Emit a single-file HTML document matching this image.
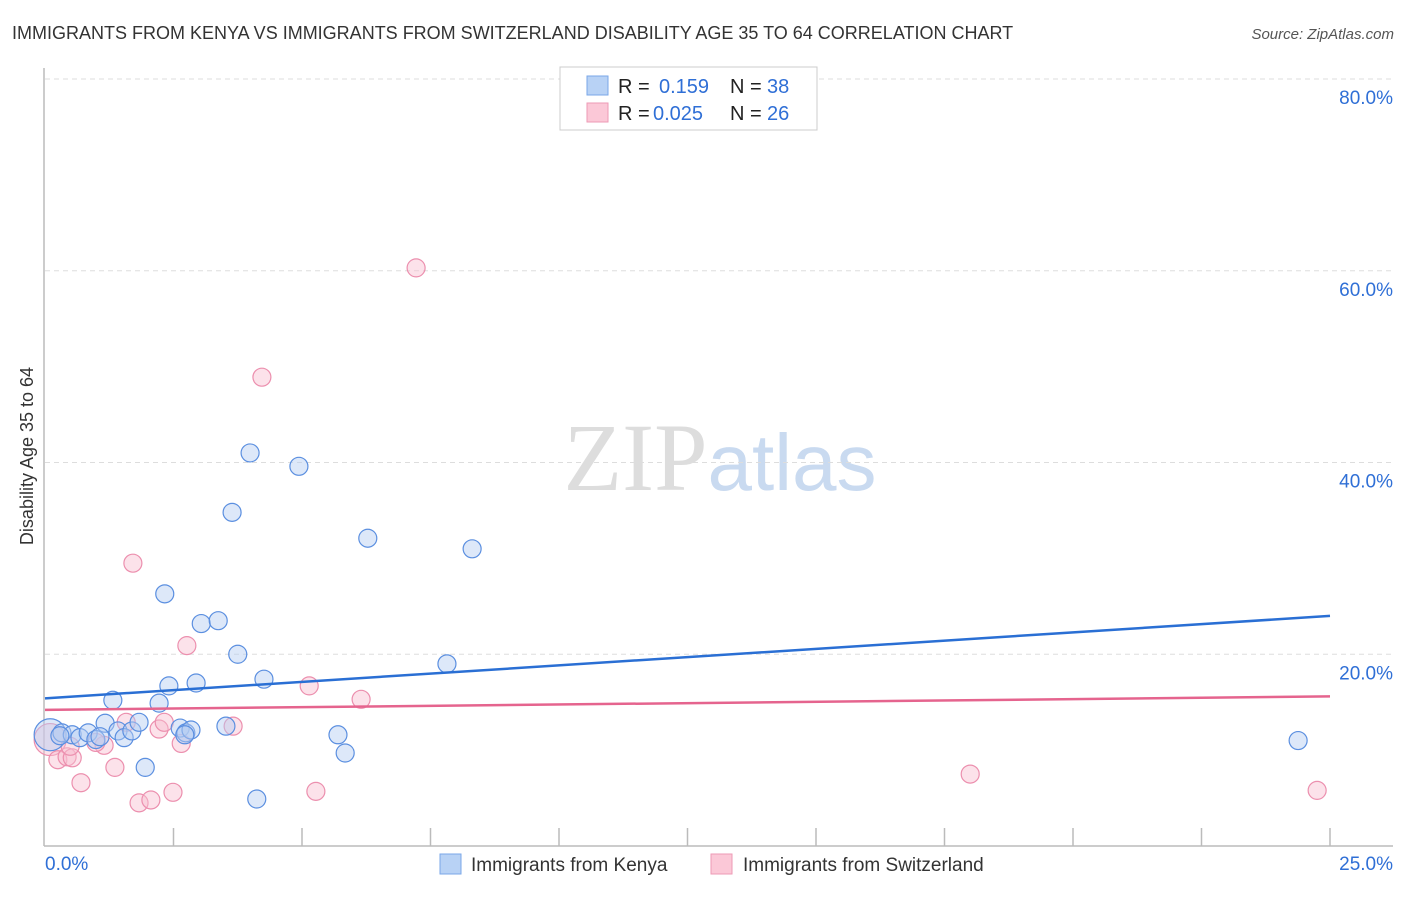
<!DOCTYPE html>
<html><head><meta charset="utf-8">
<style>
body{margin:0;background:#fff;font-family:"Liberation Sans",sans-serif;}
svg text{font-family:"Liberation Sans",sans-serif;}
</style></head>
<body>
<svg id="chart" width="1406" height="892" xmlns="http://www.w3.org/2000/svg">
<text x="12" y="39" font-size="18" fill="#333">IMMIGRANTS FROM KENYA VS IMMIGRANTS FROM SWITZERLAND DISABILITY AGE 35 TO 64 CORRELATION CHART</text>
<text x="1394" y="39" font-size="15" fill="#555" text-anchor="end" font-style="italic">Source: ZipAtlas.com</text>
<text x="720" y="490" font-size="96" text-anchor="middle"><tspan fill="#ddd" font-family="Liberation Serif">ZIP</tspan><tspan fill="#c9daf0" font-size="80">atlas</tspan></text>
<g id="grid"></g>
<line x1="44" y1="68" x2="44" y2="846" stroke="#bbb" stroke-width="1.5"/>
<line x1="44" y1="846" x2="1393" y2="846" stroke="#bbb" stroke-width="1.5"/>
<text transform="translate(33,456) rotate(-90)" font-size="18" fill="#333" text-anchor="middle">Disability Age 35 to 64</text>
<g id="trend"></g>
<g id="points"></g>
<g>
<rect x="560" y="67" width="257" height="63" fill="#fff" stroke="#ccc"/>
<rect x="587" y="76" width="21" height="19" fill="#b8d2f5" stroke="#7aa7e8"/>
<rect x="587" y="103" width="21" height="19" fill="#fbc8d7" stroke="#ee9ab5"/>
<text x="618" y="93" font-size="20" fill="#222">R = </text><text x="659" y="93" font-size="20" fill="#2f6fd6">0.159</text>
<text x="730" y="93" font-size="20" fill="#222">N = </text><text x="767" y="93" font-size="20" fill="#2f6fd6">38</text>
<text x="618" y="120" font-size="20" fill="#222">R = </text><text x="653" y="120" font-size="20" fill="#2f6fd6">0.025</text>
<text x="730" y="120" font-size="20" fill="#222">N = </text><text x="767" y="120" font-size="20" fill="#2f6fd6">26</text>
</g>
<g>
<rect x="440" y="854" width="21" height="20" fill="#b8d2f5" stroke="#7aa7e8"/>
<text x="471" y="871" font-size="19" fill="#333">Immigrants from Kenya</text>
<rect x="711" y="854" width="21" height="20" fill="#fbc8d7" stroke="#ee9ab5"/>
<text x="743" y="871" font-size="19" fill="#333">Immigrants from Switzerland</text>
</g>
</svg>
<script>
const yTicks=[20,40,60,80];
const xTickLabels=["0.0%","25.0%"];
const kenyaX=[0.10,0.33,0.53,0.68,0.84,0.99,1.17,1.32,1.42,1.54,1.69,1.83,1.95,2.22,2.33,2.41,2.63,2.74,2.84,2.94,3.04,3.37,3.52,3.64,3.75,3.99,4.12,4.26,4.94,5.70,5.84,6.28,7.82,8.31,24.38,0.29,1.07,2.72];
const kenyaY=[11.6,11.8,11.6,11.3,11.8,11.1,12.8,15.2,12.0,11.3,12.0,12.9,8.2,14.9,26.3,16.7,12.3,11.8,12.1,17.0,23.2,23.5,12.5,34.8,20.0,41.0,4.9,17.4,39.6,11.6,9.7,32.1,19.0,31.0,11.0,11.5,11.4,11.6];
const swissX=[0.10,0.25,0.43,0.53,0.70,1.15,1.36,1.58,1.71,1.83,2.06,2.22,2.32,2.49,2.65,2.76,3.66,4.22,5.14,5.27,6.15,7.22,18.0,24.75,0.99,0.49];
const swissY=[11.1,9.0,9.3,9.2,6.6,10.5,8.2,12.9,29.5,4.5,4.8,12.2,12.9,5.6,10.7,20.9,12.5,48.9,16.7,5.7,15.3,60.3,7.5,5.8,10.8,10.4];
const kenyaTrend=[15.4,24.0];
const swissTrend=[14.2,15.6];
const NS="http://www.w3.org/2000/svg";
const X=v=>45+v/25*1285, Y=v=>846-v/80*767;
function mk(t,a,p){const e=document.createElementNS(NS,t);for(const k in a)e.setAttribute(k,a[k]);p.appendChild(e);return e;}
const grid=document.getElementById('grid');
yTicks.forEach(t=>{
 const l=mk('line',{x1:45,x2:1393,y1:Y(t),y2:Y(t),stroke:'#ddd','stroke-dasharray':'5,4'},grid);
 
 
 const tx=mk('text',{x:1393,y:Y(t)+25,'font-size':19,fill:'#2f6fd6','text-anchor':'end'},grid);
 tx.textContent=t.toFixed(1)+'%';
 
 
});
for(let i=1;i<=10;i++){
 const l=mk('line',{x1:X(i*2.5),x2:X(i*2.5),y1:828,y2:846,stroke:'#bbb','stroke-width':1.5},grid);
 
 
}
[[0,45,'start'],[1,1393,'end']].forEach(([i,x,a])=>{
 const tx=mk('text',{x:x,y:870,'font-size':19,fill:'#2f6fd6','text-anchor':a},grid);
 tx.textContent=xTickLabels[i];
 
 
});
const pts=document.getElementById('points');
function series(xs,ys,fill,stroke,name){
 xs.forEach((x,i)=>{
  const r=(i===0)?16:9;
  const c=mk('circle',{cx:X(x),cy:Y(ys[i]),r:r,fill:fill,'fill-opacity':0.45,stroke:stroke,'stroke-width':1.2},pts);
  
  
 });
}
series(swissX,swissY,'#f9bfd0','#ec8fae','switzerland-point');
series(kenyaX,kenyaY,'#b3cdf2','#5b8fe0','kenya-point');
const tr=document.getElementById('trend');
const t1=mk('line',{x1:X(0),x2:X(25),y1:Y(kenyaTrend[0]),y2:Y(kenyaTrend[1]),stroke:'#2a6fd4','stroke-width':2.5},tr);


const t2=mk('line',{x1:X(0),x2:X(25),y1:Y(swissTrend[0]),y2:Y(swissTrend[1]),stroke:'#e5648e','stroke-width':2.5},tr);


document.getElementById('chart').appendChild(tr);
</script>
</body></html>
